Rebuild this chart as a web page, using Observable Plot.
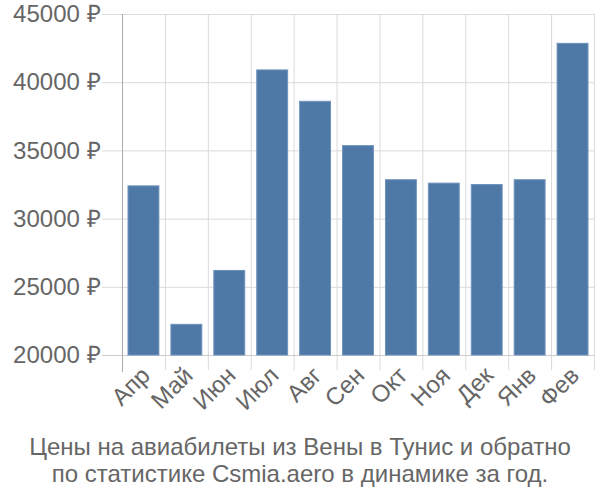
<!DOCTYPE html>
<html><head><meta charset="utf-8">
<script src="https://cdn.jsdelivr.net/npm/d3@7"></script>
<script src="https://cdn.jsdelivr.net/npm/@observablehq/plot@0.6"></script>
<style>
body{margin:0;background:#fff;font-family:"Liberation Sans",Arial,sans-serif;}
#chart svg{display:block;}
#cap{width:600px;text-align:center;color:#666;font-size:24px;line-height:27px;margin-top:8px;}
</style></head><body>
<div id="chart"></div>
<div id="cap">Цены на авиабилеты из Вены в Тунис и обратно<br>по статистике Csmia.aero в динамике за год.</div>
<script>
const months = ["Апр","Май","Июн","Июл","Авг","Сен","Окт","Ноя","Дек","Янв","Фев"];
const prices = [32400,22250,26200,40900,38600,35350,32850,32600,32500,32850,42850];
const yTicks = [20000,25000,30000,35000,40000,45000];
const data = months.map((m,i)=>({month:m, price:prices[i]}));
const W=600,H=425,ML=122,MR=6,MT=14,MB=70;
const step=(W-ML-MR)/months.length;
const chart = Plot.plot({
  width:W,height:H,marginLeft:ML,marginRight:MR,marginTop:MT,marginBottom:MB,
  style:{fontFamily:"Liberation Sans, Arial, sans-serif",fontSize:"24px",color:"#666",background:"#fff"},
  x:{domain:months,paddingInner:0.28,paddingOuter:0.14,align:0.5,round:false,label:null},
  y:{domain:[20000,45000],label:null},
  marks:[
    Plot.gridY(yTicks,{stroke:"#dadada",strokeOpacity:1,insetLeft:-20}),
    Plot.ruleX(months,{x:d=>d,dx:-step/2,stroke:"#dadada",insetBottom:-15}),
    Plot.ruleX([months[months.length-1]],{x:d=>d,dx:step/2,stroke:"#dadada",insetBottom:-15}),
    Plot.ruleY([20000],{stroke:"#ccc",insetLeft:-20}),
    Plot.ruleX([months[0]],{x:d=>d,dx:-step/2,stroke:"#aaa",insetBottom:-17}),
    Plot.barY(data,{x:"month",y1:20000,y2:"price",fill:"#4e79a7",stroke:"#6f93bd",strokeWidth:1}),
    Plot.axisY(yTicks,{tickSize:0,tickPadding:22,tickFormat:d=>`${d} ₽`,fill:"#666",fontSize:24}),
    Plot.axisX({tickSize:0,tickRotate:-45,tickPadding:16,fill:"#666",fontSize:24,dx:2})
  ]
});
document.getElementById("chart").appendChild(chart);
</script></body></html>
